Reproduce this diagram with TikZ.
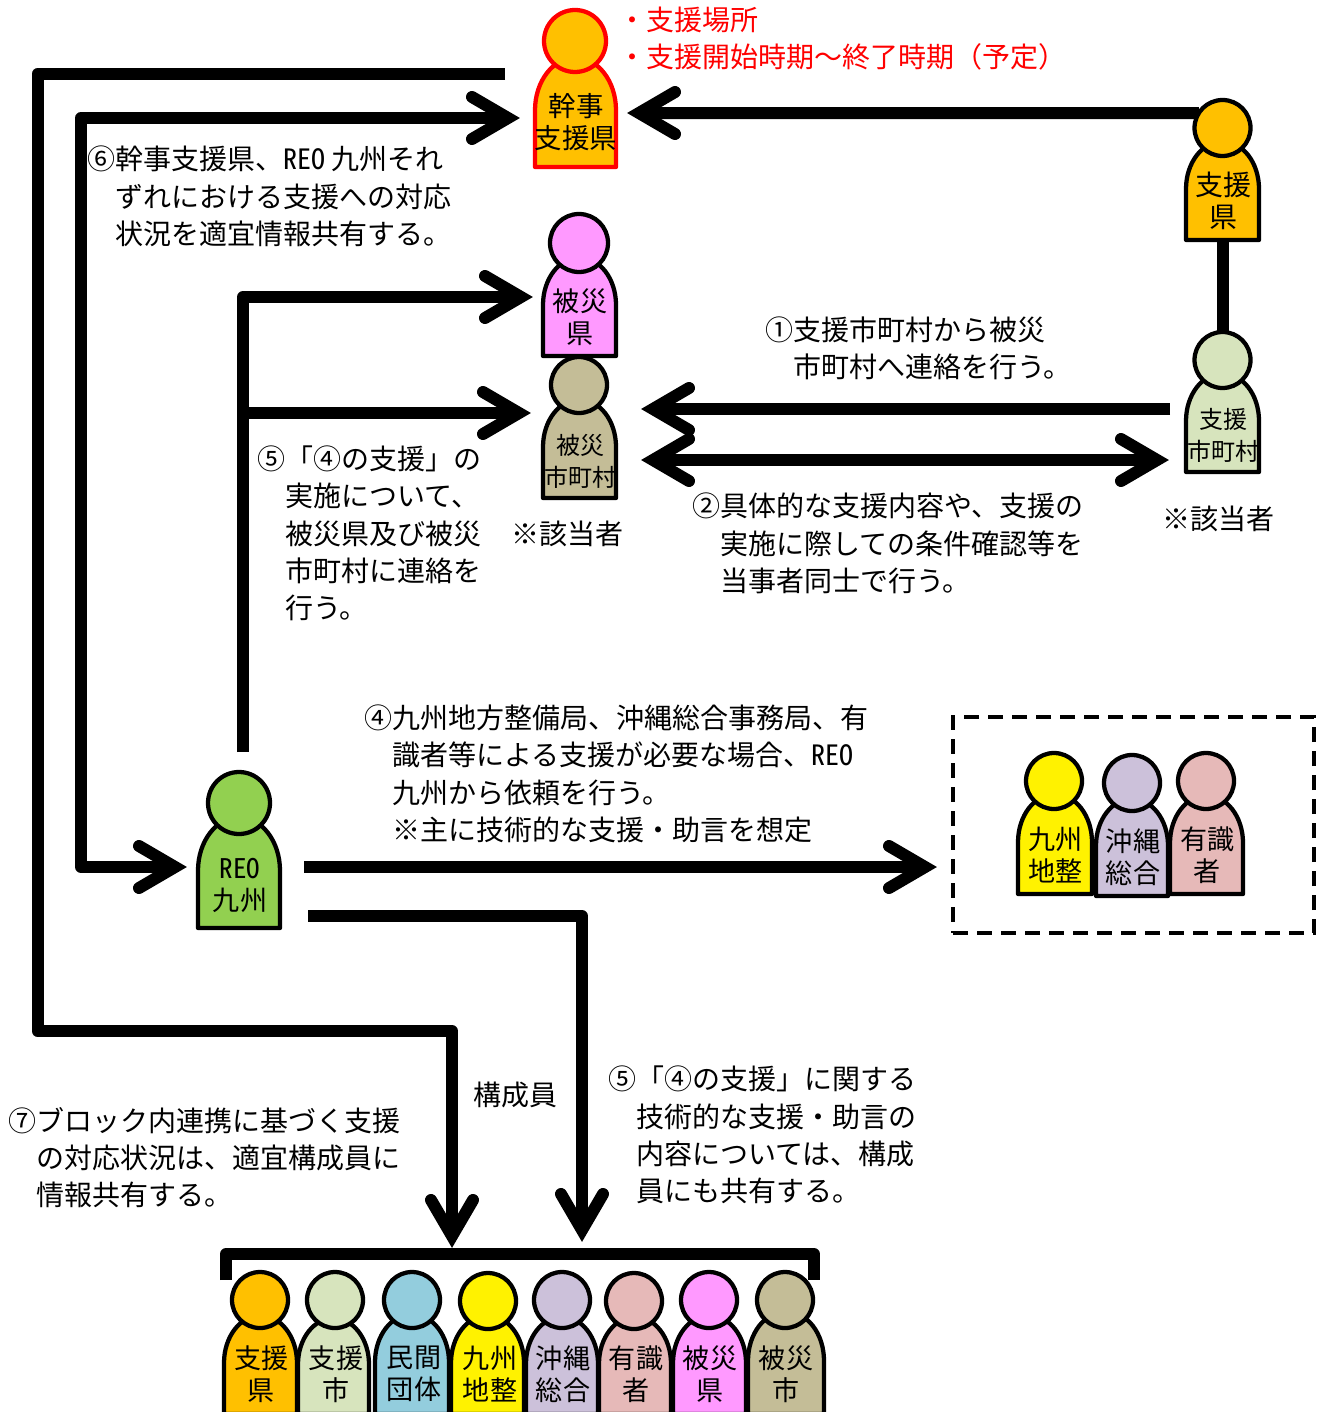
\documentclass[tikz,border=0pt]{standalone}
\usepackage{fontspec}
\setmainfont{Noto Sans CJK JP}
\newfontfamily\hw[CharacterWidth=Half]{Noto Sans CJK JP}
\usetikzlibrary{arrows.meta,calc}
\pgfdeclarelayer{bg}
\pgfsetlayers{bg,main}
\definecolor{cOrange}{HTML}{FFC000}
\definecolor{cSage}{HTML}{D7E4BD}
\definecolor{cPink}{HTML}{FF99FF}
\definecolor{cTan}{HTML}{C4BD97}
\definecolor{cGreen}{HTML}{92D050}
\definecolor{cLav}{HTML}{CCC1DA}
\definecolor{cRose}{HTML}{E6B9B8}
\definecolor{cBlue}{HTML}{93CDDD}
\pgfdeclarearrow{
  name=OpenBarb,
  setup code={\pgfarrowssettipend{0pt}\pgfarrowssetlineend{-9pt}\pgfarrowssetbackend{-36pt}\pgfarrowssetvisualbackend{-9pt}\pgfarrowshullpoint{0pt}{0pt}\pgfarrowshullpoint{-36pt}{16pt}\pgfarrowshullpoint{-36pt}{-16pt}},
  drawing code={\pgfsetdash{}{0pt}\pgfsetroundcap\pgfsetmiterjoin
    \pgfpathmoveto{\pgfpoint{-36pt}{15.75pt}}\pgfpathlineto{\pgfpoint{-9pt}{0pt}}\pgfpathlineto{\pgfpoint{-36pt}{-15.75pt}}\pgfusepathqstroke}
}
\tikzset{
  conn/.style={line width=9pt,line join=round,draw=black},
  ar/.style={conn,-{OpenBarb}},
  dar/.style={conn,{OpenBarb}-{OpenBarb}},
  captxt/.style={anchor=west,inner sep=0pt,align=left,font=\fontsize{21}{28}\selectfont},
  who/.style={inner sep=0pt,align=center},
}
% name, headx, heady, r, left, right, bottom, fill, stroke
\newcommand{\person}[9]{%
  \pgfmathsetmacro{\pxa}{(#6-#5)/2}\pgfmathsetmacro{\pxm}{(#6+#5)/2}%
  \pgfmathsetmacro{\pys}{#7-1.4*\pxa}\pgfmathsetmacro{\pyh}{1.3*\pxa}%
  \pgfmathsetmacro{\pyt}{\pys-\pyh}\pgfmathsetmacro{\pyc}{\pys-.5523*\pyh}%
  \pgfmathsetmacro{\pxl}{\pxm-.5523*\pxa}\pgfmathsetmacro{\pxr}{\pxm+.5523*\pxa}%
  \draw[line width=3.2pt,line join=round,fill=#8,draw=#9] (#5,#7) -- (#5,\pys) .. controls (#5,\pyc) and (\pxl,\pyt) .. (\pxm,\pyt) .. controls (\pxr,\pyt) and (#6,\pyc) .. (#6,\pys) -- (#6,#7) -- cycle;
  \node[circle,draw=#9,fill=#8,line width=3.2pt,inner sep=0pt,outer sep=0pt,minimum size={#4*1.5pt}] (#1-h) at (#2,#3) {};
  \coordinate (#1-bot) at (\pxm,#7);
}
% name, font size, x, y, text
\newcommand{\wholabel}[5]{%
  \node[who,font=\fontsize{#2}{24}\selectfont] (#1) at (#3,#4) {#5};
}
\begin{document}
\begin{tikzpicture}[x=.75pt,y=-.75pt]
\useasboundingbox (0,0) rectangle (1322,1412);
% free ends
\coordinate (t1s) at (505,74);
\coordinate (t1a) at (37.5,74);
\coordinate (t1b) at (37.5,1031);
\coordinate (t1c) at (452,1031);
\coordinate (t1e) at (452,1248);
\coordinate (t2a) at (81,118);
\coordinate (t2b) at (81,867);
\coordinate (t2e) at (520,118);
\coordinate (t2f) at (187,867);
\coordinate (t3e) at (627,113);
\coordinate (t5s) at (1170,409);
\coordinate (t5e) at (641,409);
\coordinate (t6l) at (641,460);
\coordinate (t6r) at (1169,460);
\coordinate (t7s) at (243,752);
\coordinate (t7c) at (243,297);
\coordinate (t7e) at (533,297);
\coordinate (t7j) at (243,413);
\coordinate (t7f) at (531,413);
\coordinate (t8s) at (304,867);
\coordinate (t8e) at (937,867);
\coordinate (t9s) at (308,916);
\coordinate (t9c) at (582,916);
\coordinate (t9e) at (582,1242);
\coordinate (brA) at (226,1280);
\coordinate (brB) at (226,1254);
\coordinate (brC) at (814,1254);
\coordinate (brD) at (814,1280);

% persons
\person{kanji}{575}{41}{31}{535}{616}{167}{cOrange}{red}
\wholabel{kanji}{20.6}{576}{122.5}{幹事\\支援県}
\person{sken}{1222.5}{128}{28}{1186}{1259}{240}{cOrange}{black}
\wholabel{sken}{21}{1223.5}{201}{支援\\県}
\person{sshi}{1222.5}{360}{28}{1186}{1259}{472}{cSage}{black}
\wholabel{sshi}{18}{1223}{435}{支援\\市町村}
\person{hken}{579}{243}{29}{543}{616}{356}{cPink}{black}
\wholabel{hken}{20.3}{580}{317}{被災\\県}
\person{hshi}{579}{385}{28}{543}{616}{498}{cTan}{black}
\wholabel{hshi}{18}{580}{461}{被災\\市町村}
\person{reo}{239}{803}{31}{198}{280}{928}{cGreen}{black}
\wholabel{reo}{20.3}{240}{885}{{\hw REO}\\九州}
\person{kyu}{1054}{781}{28}{1018}{1092}{894}{yellow}{black}
\wholabel{kyu}{20.3}{1055.5}{855.5}{九州\\地整}
\person{oki}{1132}{783}{28}{1096}{1168}{896}{cLav}{black}
\wholabel{oki}{20.3}{1133}{857.5}{沖縄\\総合}
\person{yu}{1206}{781}{28}{1170}{1243}{894}{cRose}{black}
\wholabel{yu}{20.3}{1207.5}{855.5}{有識\\者}

\person{m1}{260}{1300}{28}{224}{297}{1414}{cOrange}{black}
\wholabel{m1}{20.3}{261.5}{1374}{支援\\県}
\person{m2}{335}{1300}{28}{298}{369}{1414}{cSage}{black}
\wholabel{m2}{20.3}{336}{1374}{支援\\市}
\person{m3}{412}{1300}{28}{375}{449}{1414}{cBlue}{black}
\wholabel{m3}{20.3}{414}{1374}{民間\\団体}
\person{m4}{488}{1301}{28}{451}{524}{1414}{yellow}{black}
\wholabel{m4}{20.3}{490}{1374}{九州\\地整}
\person{m5}{562}{1300}{28}{526}{598}{1414}{cLav}{black}
\wholabel{m5}{20.3}{563}{1374}{沖縄\\総合}
\person{m6}{634}{1301}{28}{599}{671}{1414}{cRose}{black}
\wholabel{m6}{20.3}{636}{1374}{有識\\者}
\person{m7}{709}{1300}{28}{673}{746}{1414}{cPink}{black}
\wholabel{m7}{20.3}{710}{1374}{被災\\県}
\person{m8}{785}{1300}{28}{748}{824}{1414}{cTan}{black}
\wholabel{m8}{20.3}{786}{1374}{被災\\市}

% connectors under the persons
\begin{pgfonlayer}{bg}
\draw[ar] (t1s) -- (t1a) -- (t1b) -- (t1c) -- (t1e);
\draw[dar] (t2e) -- (t2a) -- (t2b) -- (t2f);
\draw[ar] (sken-h.148) -- (t3e);
\draw[conn] (sken-bot) -- (sshi-h);
\draw[ar] (t5s) -- (t5e);
\draw[dar] (t6l) -- (t6r);
\draw[ar] (t7s) -- (t7c) -- (t7e);
\draw[ar] (t7j) -- (t7f);
\draw[ar] (t8s) -- (t8e);
\draw[ar] (t9s) -- (t9c) -- (t9e);
\draw[conn] (brA) -- (brB) -- (brC) -- (brD);
\end{pgfonlayer}

% dashed frame
\node[draw,line width=3.2pt,dash pattern=on 11.25pt off 6.75pt,inner sep=0pt,minimum width=270.75pt,minimum height=162pt] (frame) at (1133.5,825) {};

% captions
\node[captxt,text=red] (redcap) at (618,38.5) {・支援場所\\・支援開始時期～終了時期（予定）};
\node[captxt] (c6) at (87,196.5) {⑥幹事支援県、{\hw REO} 九州それ\\\hspace*{1em}ずれにおける支援への対応\\\hspace*{1em}状況を適宜情報共有する。};
\node[captxt] (c1) at (765,348) {①支援市町村から被災\\\hspace*{1em}市町村へ連絡を行う。};
\node[captxt] (c2) at (692,543.5) {②具体的な支援内容や、支援の\\\hspace*{1em}実施に際しての条件確認等を\\\hspace*{1em}当事者同士で行う。};
\node[captxt] (c5a) at (257,533.5) {⑤「④の支援」の\\\hspace*{1em}実施について、\\\hspace*{1em}被災県及び被災\\\hspace*{1em}市町村に連絡を\\\hspace*{1em}行う。};
\node[captxt] (n1) at (511,534) {※該当者};
\node[captxt] (n2) at (1162,519) {※該当者};
\node[captxt] (c4) at (364,774) {④九州地方整備局、沖縄総合事務局、有\\\hspace*{1em}識者等による支援が必要な場合、{\hw REO}\\\hspace*{1em}九州から依頼を行う。\\\hspace*{1em}※主に技術的な支援・助言を想定};
\node[captxt] (c7) at (8,1157.5) {⑦ブロック内連携に基づく支援\\\hspace*{1em}の対応状況は、適宜構成員に\\\hspace*{1em}情報共有する。};
\node[captxt] (mem) at (473,1095) {構成員};
\node[captxt] (c5b) at (608,1135) {⑤「④の支援」に関する\\\hspace*{1em}技術的な支援・助言の\\\hspace*{1em}内容については、構成\\\hspace*{1em}員にも共有する。};
\end{tikzpicture}
\end{document}
